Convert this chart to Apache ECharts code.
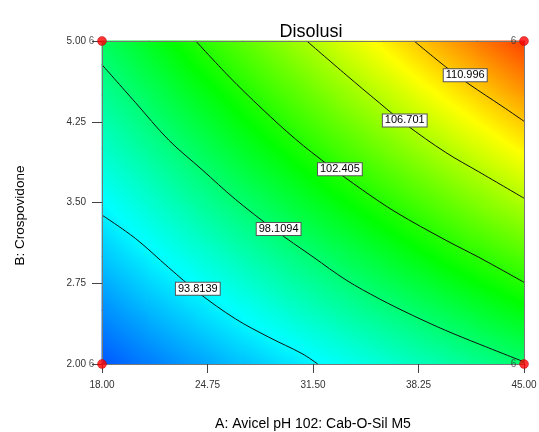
<!DOCTYPE html>
<html>
<head>
<meta charset="utf-8">
<script src="https://cdn.jsdelivr.net/npm/echarts@6/dist/echarts.min.js"></script>
<style>
  html, body { margin: 0; padding: 0; background: #ffffff; }
  #chart { width: 539px; height: 432px; }
</style>
</head>
<body>
<div id="chart"></div>
<script>
// ---- Data ----
// Grid of the factors
const aValues = [18, 21, 24, 27, 30, 33, 36, 39, 42, 45];          // A: Avicel pH 102: Cab-O-Sil M5
const bValues = [2.0, 2.5, 3.0, 3.5, 4.0, 4.5, 5.0];               // B: Crospovidone
// Estimated Disolusi response at each grid point (one row per B value, across A)
const disB200 = [89.3, 90.3, 91.3, 92.3, 93.2, 94.2, 95.2, 96.2, 97.2, 98.2];
const disB250 = [90.8, 92.0, 93.1, 94.2, 95.4, 96.5, 97.6, 98.7, 99.9, 101.0];
const disB300 = [92.4, 93.7, 94.9, 96.2, 97.5, 98.7, 100.0, 101.3, 102.6, 103.8];
const disB350 = [93.9, 95.3, 96.8, 98.2, 99.6, 101.0, 102.4, 103.8, 105.3, 106.7];
const disB400 = [95.5, 97.0, 98.6, 100.2, 101.7, 103.3, 104.8, 106.4, 107.9, 109.5];
const disB450 = [97.0, 98.7, 100.4, 102.1, 103.8, 105.5, 107.2, 108.9, 110.6, 112.3];
const disB500 = [98.6, 100.4, 102.3, 104.1, 105.9, 107.8, 109.6, 111.5, 113.3, 115.2];

// Contour lines: [A, B]
const contour93 = [[18,3.383],[20.13,3.167],[22.27,2.895],[24.19,2.66],[26.53,2.42],[28.66,2.25],[30.8,2.096],[31.8,2.0]];
const contour98 = [[18,4.78],[20.13,4.43],[22.27,4.08],[24.4,3.805],[26.53,3.53],[29.0,3.25],[31.5,2.995],[33.62,2.78],[35.75,2.605],[37.87,2.452],[39.99,2.312],[42.11,2.186],[45,2.02]];
const contour102 = [[24.0,5.0],[26.1,4.674],[28.24,4.37],[30.37,4.09],[32.5,3.845],[34.68,3.615],[36.8,3.41],[39.99,3.15],[42.11,2.991],[45,2.759]];
const contour106 = [[31.1,5.0],[33.62,4.685],[35.75,4.425],[37.44,4.225],[39.99,3.965],[42.11,3.785],[45,3.54]];
const contour111 = [[37.97,5.0],[39.99,4.76],[41.48,4.6],[43.6,4.394],[45,4.255]];

// Contour label texts and where they sit
const contourLabels = ['93.8139', '98.1094', '102.405', '106.701', '110.996'];
const contourLabelA = [24.13, 29.3, 33.22, 37.37, 41.24];
const contourLabelB = [2.698, 3.253, 3.809, 4.262, 4.682];

// Design points (corners) and their replicate counts
const designA = [18, 18, 45, 45];
const designB = [2.0, 5.0, 2.0, 5.0];
const designCount = ['6', '6', '6', '6'];

// Axis ticks
const xTicks = [18, 24.75, 31.5, 38.25, 45];
const yTicks = [2.0, 2.75, 3.5, 4.25, 5.0];

// ---- Styling helpers ----
const FONT = 'Arial, "Liberation Sans", sans-serif';
const cmVals = [86.8, 94.0, 101.3, 109.2, 117.2];
const cmRGB = [[0,0,255],[0,255,255],[0,255,0],[255,255,0],[255,0,0]];
function cm(v) {
  if (v <= cmVals[0]) return 'rgb(' + cmRGB[0].join(',') + ')';
  const n = cmVals.length - 1;
  if (v >= cmVals[n]) return 'rgb(' + cmRGB[n].join(',') + ')';
  for (let k = 0; k < n; k++) {
    if (v <= cmVals[k + 1]) {
      const t = (v - cmVals[k]) / (cmVals[k + 1] - cmVals[k]);
      const c = cmRGB[k].map((c0, m) => Math.round(c0 + (cmRGB[k + 1][m] - c0) * t));
      return 'rgb(' + c.join(',') + ')';
    }
  }
}

const gridRows = [disB200, disB250, disB300, disB350, disB400, disB450, disB500];
const cells = [];
for (let j = 0; j < bValues.length - 1; j++) {
  for (let i = 0; i < aValues.length - 1; i++) {
    cells.push([aValues[i], bValues[j], aValues[i + 1], bValues[j + 1],
      gridRows[j][i], gridRows[j][i + 1], gridRows[j + 1][i], gridRows[j + 1][i + 1]]);
  }
}

function renderCell(params, api) {
  const p0 = api.coord([api.value(0), api.value(1)]);
  const p1 = api.coord([api.value(2), api.value(3)]);
  const x0 = p0[0], y0 = p0[1], x1 = p1[0], y1 = p1[1];
  const W = x1 - x0, H = y0 - y1;
  const v00 = api.value(4), v10 = api.value(5), v01 = api.value(6), v11 = api.value(7);
  const gx = ((v10 - v00) + (v11 - v01)) / (2 * W);
  const gy = -((v01 - v00) + (v11 - v10)) / (2 * H);
  const vc = (v00 + v10 + v01 + v11) / 4;
  const cx = (x0 + x1) / 2, cy = (y0 + y1) / 2;
  const g = Math.hypot(gx, gy);
  let fill;
  if (g < 1e-9) {
    fill = cm(vc);
  } else {
    const dx = gx / g, dy = gy / g;
    const smax = (Math.abs(dx) * W + Math.abs(dy) * H) / 2;
    const vs = vc - g * smax, ve = vc + g * smax;
    const stops = [{ offset: 0, color: cm(vs) }];
    cmVals.forEach(b => {
      if (b > vs && b < ve) stops.push({ offset: (b - vs) / (ve - vs), color: cm(b) });
    });
    stops.push({ offset: 1, color: cm(ve) });
    fill = {
      type: 'linear', global: true,
      x: cx - dx * smax, y: cy - dy * smax,
      x2: cx + dx * smax, y2: cy + dy * smax,
      colorStops: stops
    };
  }
  return {
    type: 'rect',
    shape: { x: x0 - 0.5, y: y1 - 0.5, width: W + 1, height: H + 1 },
    style: { fill: fill },
    silent: true
  };
}

const contourSeries = [contour93, contour98, contour102, contour106, contour111].map((pts, k) => ({
  type: 'line',
  name: 'Disolusi ' + contourLabels[k],
  data: pts,
  smooth: 0.35,
  showSymbol: false,
  symbol: 'none',
  silent: true,
  z: 3,
  lineStyle: { color: '#111', width: 1 }
}));

const chart = echarts.init(document.getElementById('chart'), null, { renderer: 'canvas' });
chart.setOption({
  animation: false,
  backgroundColor: '#ffffff',
  textStyle: { fontFamily: FONT },
  title: {
    text: 'Disolusi',
    left: 306, top: 18, textAlign: 'center',
    textStyle: { fontFamily: FONT, fontSize: 18, fontWeight: 'normal', color: '#000' }
  },
  grid: { left: 102, right: 15, top: 41, bottom: 68, outerBoundsMode: 'none', containLabel: false },
  xAxis: [{
    type: 'value', min: 18, max: 45, position: 'bottom', z: 10,
    name: 'A: Avicel pH 102: Cab-O-Sil M5',
    nameLocation: 'middle', nameGap: 53,
    nameTextStyle: { fontFamily: FONT, fontSize: 14, color: '#000' },
    axisLine: { show: true, lineStyle: { color: '#777', width: 1 } },
    axisTick: { show: true, inside: false, length: 9, customValues: xTicks, lineStyle: { color: '#444' } },
    axisLabel: { customValues: xTicks, margin: 16, fontFamily: FONT, fontSize: 10, color: '#333',
      formatter: v => v.toFixed(2) },
    splitLine: { show: false }
  }, {
    type: 'value', min: 18, max: 45, position: 'top', z: 10,
    axisLine: { show: true, lineStyle: { color: '#777', width: 1 } },
    axisTick: { show: false }, axisLabel: { show: false }, splitLine: { show: false }
  }],
  yAxis: [{
    type: 'value', min: 2, max: 5, position: 'left', z: 10,
    name: 'B: Crospovidone',
    nameLocation: 'middle', nameGap: 75,
    nameTextStyle: { fontFamily: FONT, fontSize: 13.5, color: '#000', padding: [0, 26, 0, 0] },
    axisLine: { show: true, lineStyle: { color: '#777', width: 1 } },
    axisTick: { show: true, inside: false, length: 10, customValues: yTicks, lineStyle: { color: '#444' } },
    axisLabel: { customValues: yTicks, margin: 16, fontFamily: FONT, fontSize: 10, color: '#333',
      formatter: v => v.toFixed(2) },
    splitLine: { show: false }
  }, {
    type: 'value', min: 2, max: 5, position: 'right', z: 10,
    axisLine: { show: true, lineStyle: { color: '#777', width: 1 } },
    axisTick: { show: false }, axisLabel: { show: false }, splitLine: { show: false }
  }],
  series: [
    {
      type: 'custom',
      name: 'Disolusi surface',
      renderItem: renderCell,
      data: cells,
      encode: { x: [0, 2], y: [1, 3] },
      z: 1,
      silent: true
    },
    ...contourSeries,
    {
      type: 'scatter',
      name: 'Contour labels',
      data: contourLabels.map((t, i) => ({ name: t, value: [contourLabelA[i], contourLabelB[i]] })),
      symbol: 'rect',
      symbolSize: 1,
      itemStyle: { color: '#ffffff', opacity: 1 },
      silent: true,
      z: 5,
      label: {
        show: true, position: 'inside', opacity: 1,
        formatter: p => p.name,
        fontFamily: FONT, fontSize: 11, color: '#000',
        backgroundColor: '#ffffff', borderColor: '#555', borderWidth: 1,
        padding: [1, 2, 0, 2], lineHeight: 11
      }
    },
    {
      type: 'scatter',
      name: 'Design points',
      data: designA.map((a, i) => ({ name: designCount[i], value: [a, designB[i]] })),
      symbol: 'circle',
      symbolSize: 9,
      clip: false,
      z: 12,
      silent: true,
      itemStyle: { color: '#ff0000', borderColor: '#aa0000', borderWidth: 0.5 },
      label: {
        show: true, position: 'left', distance: 3,
        formatter: p => p.name,
        fontFamily: FONT, fontSize: 10, color: '#333'
      }
    }
  ]
});
</script>
</body>
</html>
